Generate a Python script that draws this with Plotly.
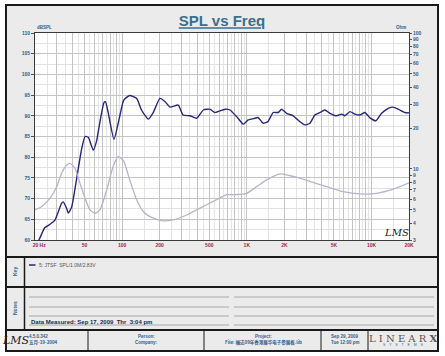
import math
import plotly.graph_objects as go

# ---------------- data ----------------
spl_freq = [20, 21.5, 24.0, 26.4, 28.9, 32.7, 33.7, 35.9, 37.0, 39.4, 43.2, 47.4, 50.4, 53.5,
            58.7, 62.5, 64.6, 67.7, 71.5, 73.5, 77.0, 86.0, 94.3, 103, 115, 131, 143, 162, 177,
            201, 221, 242, 282, 308, 350, 396, 448, 506, 555, 668, 733, 829, 936, 1027, 1162,
            1228, 1355, 1477, 1629, 1786, 1902, 2085, 2356, 2666, 2925, 3207, 3517, 3981, 4234,
            4643, 5250, 5767, 6126, 6717, 7366, 8078, 8858, 9714, 10857, 12062, 13629, 14946,
            16391, 18531, 20000]
spl_db = [58.5, 60, 63, 63.8, 64.8, 68.9, 69.2, 67.6, 66.5, 68, 74.9, 82.1, 85, 84.8,
          81.7, 84, 86.5, 90, 93.2, 93.4, 91, 84.3, 89, 93.8, 94.9, 94.2, 91.4, 89.2, 90.7,
          94.2, 93.4, 92.1, 92.6, 90.2, 90, 89.4, 91.4, 91.6, 90.8, 91.6, 91.4, 89.8, 88, 89, 89.4,
          89.6, 88.2, 88.6, 90.8, 90.8, 91.6, 90.6, 90, 88.6, 87.8, 88.2, 90.2, 91, 91.4,
          90.6, 90, 90.4, 90, 91, 90.4, 90.2, 90.8, 89.5, 88.8, 90.6, 91.8, 92.1,
          91.6, 90.8, 90.7]

imp_freq = [20, 22.7, 26.4, 29.9, 32.7, 35.9, 38.2, 41.9, 45.9, 50.4, 55.2, 60.6, 66.4, 75.2,
            84.9, 93.1, 102.1, 115, 131, 147.7, 167.2, 207.5, 257, 329.5, 421, 538, 689, 778,
            997, 1199, 1442, 1845, 2357, 3207, 4366, 5933, 8078, 10990, 14940, 20000]
imp_ohm = [5.0, 5.3, 6.1, 7.4, 9.3, 10.7, 11.0, 10.1, 7.85, 6.1, 5.0, 4.72, 5.0, 7.0,
           10.5, 12.3, 11.6, 8.3, 5.9, 4.86, 4.46, 4.17, 4.22, 4.58, 5.15, 5.77, 6.46, 6.46,
           6.62, 7.41, 8.3, 9.2, 8.8, 8.1, 7.4, 6.8, 6.55, 6.62, 7.1, 7.9]

x_major = [m * d for d in (10, 100, 1000) for m in range(1, 10) if m * d >= 20] + [10000, 20000]
x_label_map = {20: "\u2007\u2007\u200720 Hz", 50: "50", 100: "100", 200: "200", 500: "500",
               1000: "1K", 2000: "2K", 5000: "5K", 10000: "10K", 20000: "20K"}
x_minor = [m * d + d / 2 for d in (10, 100, 1000) for m in range(1, 10) if m * d + d / 2 > 20] + [15000]
db_ticks = [60, 65, 70, 75, 80, 85, 90, 95, 100, 105, 110]
ohm_ticks = [3, 4, 5, 6, 7, 8, 9, 10, 20, 30, 40, 50, 60, 70, 80, 90, 100]

legend_text = "5: JTSF  SPL/1.0M/2.83V"
measured_text = "Data Measured: Sep 17, 2009  Thr  3:04 pm"

# ---------------- geometry helpers ----------------
W, H = 445, 356
L, R, T, B = 35, 409, 33, 240


def px(x):
    return (x - L) / (R - L)


def py(y):
    return (B - y) / (B - T)


FONT = "Liberation Sans, Arial, sans-serif"
BLUE = "#2f5f8c"
RED = "#9a2a4c"

fig = go.Figure()
fig.add_trace(go.Scatter(x=imp_freq, y=imp_ohm, yaxis="y2", mode="lines",
                         line=dict(color="#b4b4cc", width=1.3, shape="spline", smoothing=0.6),
                         showlegend=False, hoverinfo="skip"))
fig.add_trace(go.Scatter(x=spl_freq, y=spl_db, mode="lines",
                         line=dict(color="#26267a", width=1.4, shape="spline", smoothing=0.5),
                         showlegend=False, hoverinfo="skip"))

shapes = []
# white outside frame
for x0, y0, x1, y1 in [(0, 0, 6, 356), (438, 0, 445, 356), (0, 0, 445, 5), (0, 351, 445, 356)]:
    shapes.append(dict(type="rect", xref="paper", yref="paper", x0=px(x0), x1=px(x1),
                       y0=py(y1), y1=py(y0), fillcolor="white", line=dict(width=0), layer="below"))
# frame
shapes.append(dict(type="rect", xref="paper", yref="paper", x0=px(6), x1=px(438), y0=py(351), y1=py(5),
                   line=dict(color="#1a1a1a", width=2)))
for yy in (257, 287, 330):
    shapes.append(dict(type="line", xref="paper", yref="paper", x0=px(6), x1=px(438), y0=py(yy), y1=py(yy),
                       line=dict(color="#1a1a1a", width=2)))
shapes.append(dict(type="line", xref="paper", yref="paper", x0=px(24.5), x1=px(24.5), y0=py(257), y1=py(330),
                   line=dict(color="#1a1a1a", width=1.5)))
for xx in (88, 204, 321, 368):
    shapes.append(dict(type="line", xref="paper", yref="paper", x0=px(xx), x1=px(xx), y0=py(330), y1=py(351),
                       line=dict(color="#1a1a1a", width=1)))
# notes lines
for yy in (297, 307, 316, 325):
    for a, b in ((29, 229), (234, 434)):
        shapes.append(dict(type="line", xref="paper", yref="paper", x0=px(a), x1=px(b), y0=py(yy), y1=py(yy),
                           line=dict(color="#a8a8a8", width=1)))
# legend line in key panel
shapes.append(dict(type="line", xref="paper", yref="paper", x0=px(29), x1=px(35.5), y0=py(265), y1=py(265),
                   line=dict(color="#26267a", width=1.5)))

ann = []


def A(text, x, y, size=5, color=BLUE, xanchor="center", bold=False, angle=0, family=FONT, italic=False):
    ann.append(dict(text=text, x=px(x), y=py(y), xref="paper", yref="paper", showarrow=False,
                    xanchor=xanchor, yanchor="middle", textangle=angle,
                    font=dict(size=size, color=color, family=family,
                              weight="bold" if bold else "normal",
                              style="italic" if italic else "normal")))


A("dBSPL", 35, 28, size=4.5, xanchor="left", bold=True)
A("Ohm", 408, 28, size=4.5, xanchor="right", bold=True)
A("LMS", 396, 232, size=10, color="#222", family="DejaVu Serif", italic=True)
A("Key", 15, 272, size=5, bold=True, angle=-90)
A("Notes", 15, 308, size=5, bold=True, angle=-90)
A(legend_text, 37, 265, size=5, color="#555", xanchor="left")
A(measured_text, 29, 321.5, size=6, color="#1c2a4c", xanchor="left", bold=True)
# footer
A("LMS", 16, 340, size=11, color="#222", family="DejaVu Serif", italic=True)
A("4.5.0.342", 27, 336.5, size=4.5, xanchor="left", bold=True)
A("五月-19-2004", 27, 342.5, size=4.5, xanchor="left", bold=True, family="Noto Sans CJK SC")
A("Person:", 146, 336.5, size=4.5, bold=True)
A("Company:", 146, 342.5, size=4.5, bold=True)
A("Project:", 263, 336.5, size=4.5, bold=True)
A("File: 福达09年香港展华电子参展板.lib", 263, 342.5, size=4.5, bold=True, family="Noto Sans CJK SC")
A("Sep 29, 2009", 345, 336.5, size=4.5, bold=True)
A("Tue 12:00 pm", 345, 342.5, size=4.5, bold=True)
A("L I N E A R <b>X</b>", 403, 338, size=10, color="#555", family="DejaVu Serif")
A("S    Y    S    T    E    M    S", 403, 345, size=3.5, color=BLUE)

fig.update_layout(
    width=W, height=H,
    margin=dict(l=L, r=W - R, t=T, b=H - B, pad=0),
    paper_bgcolor="#ebebeb", plot_bgcolor="white",
    title=dict(text="SPL vs Freq", x=222 / W, y=1 - 21 / H, xref="container", yref="container",
               xanchor="center", yanchor="middle",
               font=dict(family=FONT, size=15, color="#3a6f8f", weight="bold", lineposition="under")),
    xaxis=dict(type="log", range=[math.log10(20), math.log10(20000)],
               tickmode="array", tickvals=x_major,
               ticktext=[x_label_map.get(v, "") for v in x_major],
               ticks="", showgrid=True, gridcolor="#c4c4c4", gridwidth=1,
               minor=dict(tickmode="array", tickvals=x_minor, showgrid=True, gridcolor="#e4e4e4", ticks=""),
               showline=True, linecolor="#3a3a3a", linewidth=1, mirror=True,
               tickfont=dict(family=FONT, size=5, color=RED, weight="bold"), automargin=False,
               zeroline=False),
    yaxis=dict(range=[60, 110], tickmode="array", tickvals=db_ticks,
               ticks="outside", ticklen=3, tickcolor="#555",
               showgrid=True, gridcolor="#c4c4c4",
               minor=dict(dtick=2.5, showgrid=True, gridcolor="#e2e2e2", ticks=""),
               showline=True, linecolor="#3a3a3a", linewidth=1, mirror=True,
               tickfont=dict(family=FONT, size=5, color=BLUE, weight="bold"), automargin=False,
               zeroline=False),
    yaxis2=dict(type="log", range=[math.log10(3), 2], overlaying="y", side="right",
                tickmode="array", tickvals=ohm_ticks, ticktext=[str(v) for v in ohm_ticks],
                ticks="outside", ticklen=2, tickcolor="#555", showgrid=False,
                tickfont=dict(family=FONT, size=5, color=BLUE, weight="bold"), automargin=False,
                zeroline=False),
    shapes=shapes, annotations=ann, showlegend=False,
)

fig.write_html("out.html", config={"displayModeBar": False},
               post_script="document.body.style.margin='0';document.body.style.padding='0';")
